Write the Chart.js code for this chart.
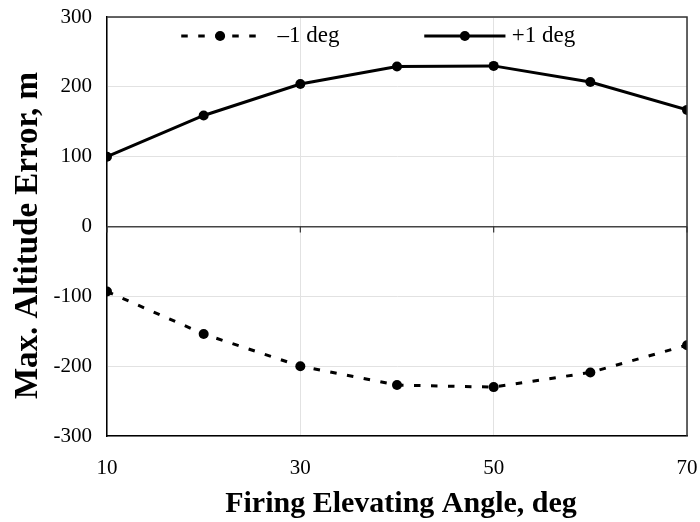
<!DOCTYPE html>
<html>
<head>
<meta charset="utf-8">
<script src="https://cdn.jsdelivr.net/npm/chart.js@4"></script>
<style>
html,body{margin:0;padding:0;background:#fff;}
#wrap{width:700px;height:522px;}
</style>
</head>
<body>
<div id="wrap"><canvas id="c" width="700" height="522"></canvas></div>
<script>
const angles = [10, 20, 30, 40, 50, 60, 70];
const minusOne = [-93, -154, -200, -227, -230, -209, -170];
const plusOne = [100, 159, 204, 229, 230, 207, 167];
const seriesLabels = ['\u20131 deg', '+1 deg'];
const xTicks = [10, 30, 50, 70];
const yTicks = [-300, -200, -100, 0, 100, 200, 300];
const xTitle = 'Firing Elevating Angle, deg';
const yTitle = 'Max. Altitude Error, m';

const FONT = '"Liberation Serif", "Times New Roman", serif';

const framePlugin = {
  id: 'frame',
  afterDatasetsDraw(chart) {
    const {ctx, chartArea: a, scales: {x, y}} = chart;
    ctx.save();
    ctx.strokeStyle = '#333';
    ctx.lineWidth = 1.5;
    ctx.beginPath();
    ctx.moveTo(a.left, a.top); ctx.lineTo(a.right, a.top); ctx.lineTo(a.right, a.bottom);
    ctx.stroke();
    const y0 = y.getPixelForValue(0);
    ctx.lineWidth = 1.2;
    xTicks.forEach(v => {
      const px = x.getPixelForValue(v);
      ctx.beginPath(); ctx.moveTo(px, y0); ctx.lineTo(px, y0 + 6); ctx.stroke();
    });
    // legend
    const ly = a.top + 19;
    const items = [
      {ds: chart.data.datasets[0], x0: a.left + 0.128 * a.width, x1: a.left + 0.262 * a.width, tx: a.left + 0.294 * a.width},
      {ds: chart.data.datasets[1], x0: a.left + 0.547 * a.width, x1: a.left + 0.687 * a.width, tx: a.left + 0.698 * a.width}
    ];
    items.forEach(it => {
      ctx.strokeStyle = '#000';
      ctx.lineWidth = it.ds.borderWidth;
      ctx.setLineDash(it.ds.borderDash || []);
      ctx.beginPath(); ctx.moveTo(it.x0, ly); ctx.lineTo(it.x1, ly); ctx.stroke();
      ctx.setLineDash([]);
      ctx.fillStyle = '#000';
      ctx.beginPath(); ctx.arc((it.x0 + it.x1) / 2, ly, it.ds.pointRadius, 0, Math.PI * 2); ctx.fill();
      ctx.font = '23px ' + FONT;
      ctx.textBaseline = 'middle';
      ctx.textAlign = 'left';
      ctx.fillText(it.ds.label, it.tx, ly);
    });
    // axis titles
    ctx.fillStyle = '#000';
    ctx.textAlign = 'center';
    ctx.textBaseline = 'alphabetic';
    ctx.font = 'bold 30px ' + FONT;
    ctx.fillText(xTitle, (a.left + a.right) / 2 + 4, chart.height - 10);
    ctx.save();
    ctx.translate(37, (a.top + a.bottom) / 2 + 9);
    ctx.rotate(-Math.PI / 2);
    ctx.font = 'bold 33px ' + FONT;
    ctx.fillText(yTitle, 0, 0);
    ctx.restore();
    ctx.restore();
  }
};

new Chart(document.getElementById('c'), {
  type: 'line',
  data: {
    datasets: [
      {
        label: seriesLabels[0],
        data: angles.map((a, i) => ({x: a, y: minusOne[i]})),
        borderColor: '#000', backgroundColor: '#000',
        borderWidth: 3, borderDash: [6.5, 10.5],
        pointRadius: 5, pointBackgroundColor: '#000', pointBorderWidth: 0,
        tension: 0
      },
      {
        label: seriesLabels[1],
        data: angles.map((a, i) => ({x: a, y: plusOne[i]})),
        borderColor: '#000', backgroundColor: '#000',
        borderWidth: 3,
        pointRadius: 5, pointBackgroundColor: '#000', pointBorderWidth: 0,
        tension: 0
      }
    ]
  },
  options: {
    responsive: false,
    animation: false,
    devicePixelRatio: 1,
    layout: {padding: {left: 0, right: 13, top: 17, bottom: 0}},
    plugins: {legend: {display: false}, tooltip: {enabled: false}},
    scales: {
      x: {
        type: 'linear', min: 10, max: 70,
        afterBuildTicks(s) { s.ticks = xTicks.map(v => ({value: v})); },
        afterFit(s) { s.height = 86; s.paddingLeft = 0; s.paddingRight = 0; },
        ticks: {font: {family: FONT, size: 21}, color: '#000', padding: 20, maxRotation: 0},
        grid: {color: '#e2e2e2', lineWidth: 1, drawTicks: false},
        border: {color: '#000', width: 1.5},
        title: {display: false}
      },
      y: {
        min: -300, max: 300,
        afterBuildTicks(s) { s.ticks = yTicks.map(v => ({value: v})); },
        afterFit(s) { s.width = 107; s.paddingTop = 0; s.paddingBottom = 0; },
        ticks: {font: {family: FONT, size: 21}, color: '#000', padding: 15},
        grid: {
          color: c => c.tick && c.tick.value === 0 ? '#444' : '#e2e2e2',
          lineWidth: c => c.tick && c.tick.value === 0 ? 1.5 : 1,
          drawTicks: false
        },
        border: {color: '#000', width: 1.5},
        title: {display: false}
      }
    }
  },
  plugins: [framePlugin]
});
</script>
</body>
</html>
